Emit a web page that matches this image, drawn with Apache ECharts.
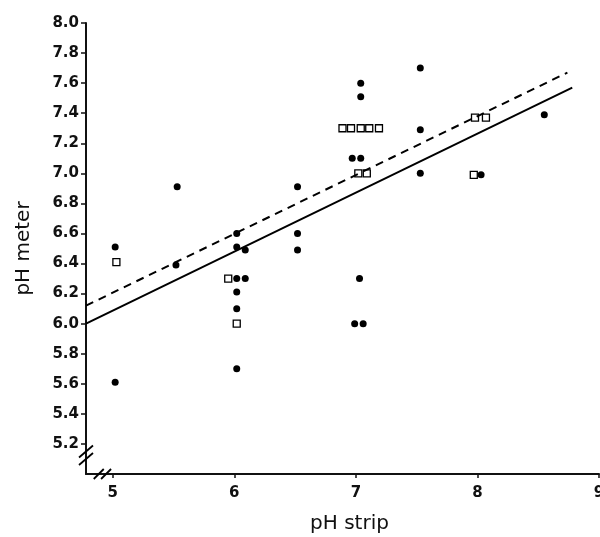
<!DOCTYPE html>
<html>
<head>
<meta charset="utf-8">
<script src="https://cdn.jsdelivr.net/npm/echarts@6/dist/echarts.min.js"></script>
<style>
	html, body { margin: 0; padding: 0; background: #fff; }
</style>
</head>
<body>
<div id="main" style="width:600px;height:537px;"></div>
<script>
	// filled circles
	var dotStrip = [5.02, 5.02, 5.53, 5.52, 6.02, 6.02, 6.09, 6.02, 6.09, 6.02, 6.02, 6.02,
		6.52, 6.52, 6.52, 7.04, 7.04, 6.97, 7.04, 7.03, 6.99, 7.06, 7.53, 7.53, 7.53, 8.03, 8.55];
	var dotMeter = [6.51, 5.61, 6.91, 6.39, 6.60, 6.51, 6.49, 6.30, 6.30, 6.21, 6.10, 5.70,
		6.91, 6.60, 6.49, 7.60, 7.51, 7.10, 7.10, 6.30, 6.00, 6.00, 7.70, 7.29, 7.00, 6.99, 7.39];
	// open squares
	var squareStrip = [5.03, 5.95, 6.02, 6.89, 6.96, 7.04, 7.11, 7.19, 7.02, 7.09, 7.98, 8.07, 7.97];
	var squareMeter = [6.41, 6.30, 6.00, 7.30, 7.30, 7.30, 7.30, 7.30, 7.00, 7.00, 7.37, 7.37, 6.99];
	// regression lines (end points)
	var solidLine = [[4.78, 6.00], [8.78, 7.57]];
	var dashedLine = [[4.78, 6.12], [8.74, 7.67]];
	// tick labels
	var xTicks = [5, 6, 7, 8, 9];
	var yTicks = [5.2, 5.4, 5.6, 5.8, 6.0, 6.2, 6.4, 6.6, 6.8, 7.0, 7.2, 7.4, 7.6, 7.8, 8.0];

	function zip(a, b) {
		return a.map(function (v, i) { return [v, b[i]]; });
	}

	var chart = echarts.init(document.getElementById('main'));
	var font = 'DejaVu Sans';

	var option = {
		animation: false,
		backgroundColor: '#fff',
		grid: { left: 86, right: 1, top: 23, bottom: 63, outerBoundsMode: 'none' },
		xAxis: {
			type: 'value',
			min: 4.78,
			max: 9,
			name: 'pH strip',
			nameLocation: 'middle',
			nameGap: 40,
			nameTextStyle: { color: '#111', fontSize: 20, fontFamily: font, padding: [0, 0, 0, 14] },
			axisLine: { lineStyle: { color: '#111', width: 2 } },
			axisTick: { length: 4, lineStyle: { color: '#111', width: 1.5 }, customValues: xTicks },
			axisLabel: {
				customValues: xTicks, color: '#111', fontSize: 15, fontWeight: 'bold',
				fontFamily: font, margin: 12
			},
			splitLine: { show: false }
		},
		yAxis: {
			type: 'value',
			min: 5.0,
			max: 8.0,
			name: 'pH meter',
			nameLocation: 'middle',
			nameGap: 52,
			nameTextStyle: { color: '#111', fontSize: 20, fontFamily: font },
			axisLine: { lineStyle: { color: '#111', width: 2 } },
			axisTick: { length: 5, lineStyle: { color: '#111', width: 1.5 }, customValues: yTicks },
			axisLabel: {
				customValues: yTicks, color: '#111', fontSize: 15, fontWeight: 'bold',
				fontFamily: font, margin: 7,
				formatter: function (v) { return v.toFixed(1); }
			},
			splitLine: { show: false }
		},
		series: [
			{
				type: 'line',
				data: solidLine,
				symbol: 'none',
				lineStyle: { color: '#000', width: 2 }
			},
			{
				type: 'line',
				data: dashedLine,
				symbol: 'none',
				lineStyle: { color: '#000', width: 2, type: [8, 6] }
			},
			{
				type: 'scatter',
				data: zip(dotStrip, dotMeter),
				symbol: 'circle',
				symbolSize: 7,
				itemStyle: { color: '#000', opacity: 1 }
			},
			{
				type: 'scatter',
				data: zip(squareStrip, squareMeter),
				symbol: 'rect',
				symbolSize: 7,
				itemStyle: { color: '#fff', borderColor: '#000', borderWidth: 1.3, opacity: 1 }
			}
		]
	};
	chart.setOption(option);

	// axis break marks (//) on both axes
	function slash(p, dx, dy) {
		return {
			type: 'line',
			shape: { x1: p[0] - dx, y1: p[1] + dy, x2: p[0] + dx, y2: p[1] - dy },
			style: { stroke: '#000', lineWidth: 1.8 },
			z: 10
		};
	}
	var yb1 = chart.convertToPixel({ gridIndex: 0 }, [4.78, 5.15]);
	var yb2 = chart.convertToPixel({ gridIndex: 0 }, [4.78, 5.10]);
	var xb1 = chart.convertToPixel({ gridIndex: 0 }, [4.885, 5.0]);
	var xb2 = chart.convertToPixel({ gridIndex: 0 }, [4.945, 5.0]);
	chart.setOption({
		graphic: [
			slash(yb1, 7, 6), slash(yb2, 7, 6),
			slash(xb1, 5, 5), slash(xb2, 5, 5)
		]
	});
</script>
</body>
</html>
